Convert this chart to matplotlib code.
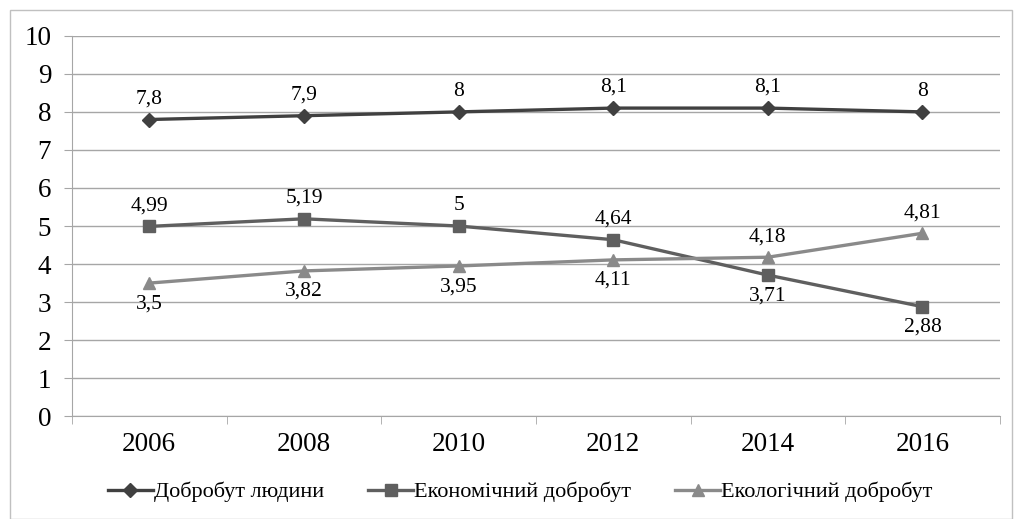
import matplotlib.pyplot as plt
from matplotlib.patches import Rectangle
import numpy as np

years = ["2006", "2008", "2010", "2012", "2014", "2016"]
human = [7.8, 7.9, 8.0, 8.1, 8.1, 8.0]
econ = [4.99, 5.19, 5.0, 4.64, 3.71, 2.88]
eco = [3.5, 3.82, 3.95, 4.11, 4.18, 4.81]
human_lbl = ["7,8", "7,9", "8", "8,1", "8,1", "8"]
econ_lbl = ["4,99", "5,19", "5", "4,64", "3,71", "2,88"]
eco_lbl = ["3,5", "3,82", "3,95", "4,11", "4,18", "4,81"]
# label above (+1) or below (-1) the point
econ_pos = [1, 1, 1, 1, -1, -1]
eco_pos = [-1, -1, -1, -1, 1, 1]

plt.rcParams['font.family'] = ['Liberation Serif', 'DejaVu Serif']

fig = plt.figure(figsize=(10.14, 5.19), dpi=100)
ax = fig.add_axes([0.071, 0.198, 0.915, 0.733])
x = np.arange(len(years))
grid_c = "#a6a6a6"

ax.plot(x, human, color="#404040", lw=2.4, marker="D", ms=7, label="Добробут людини", zorder=3)
ax.plot(x, econ, color="#5f5f5f", lw=2.4, marker="s", ms=8, label="Економічний добробут", zorder=3)
ax.plot(x, eco, color="#8a8a8a", lw=2.4, marker="^", ms=9, label="Екологічний добробут", zorder=3)

for i in x:
    ax.annotate(human_lbl[i], (i, human[i]), xytext=(0, 8), textcoords="offset points",
                ha="center", va="bottom", fontsize=15.5)
    ax.annotate(econ_lbl[i], (i, econ[i]), xytext=(0, 8 * econ_pos[i]), textcoords="offset points",
                ha="center", va="bottom" if econ_pos[i] > 0 else "top", fontsize=15.5)
    ax.annotate(eco_lbl[i], (i, eco[i]), xytext=(0, 8 * eco_pos[i]), textcoords="offset points",
                ha="center", va="bottom" if eco_pos[i] > 0 else "top", fontsize=15.5)

ax.set_xlim(-0.5, len(years) - 0.5)
ax.set_ylim(0, 10)
ax.set_yticks(range(0, 11))
ax.set_xticks(x)
ax.set_xticklabels(years)
ax.set_xticks(np.arange(-0.5, len(years)), minor=True)
ax.tick_params(axis="x", which="major", length=0, labelsize=19.5, pad=11)
ax.tick_params(axis="x", which="minor", length=6, color=grid_c)
ax.tick_params(axis="y", length=6, color=grid_c, labelsize=19.5, pad=9)
ax.yaxis.grid(True, color=grid_c, lw=1)
ax.set_axisbelow(True)
for s in ["top", "right"]:
    ax.spines[s].set_visible(False)
ax.spines["left"].set_color(grid_c)
ax.spines["bottom"].set_color(grid_c)

fig.legend(loc="center", bbox_to_anchor=(0.513, 0.052), ncol=3, frameon=False,
           fontsize=16, handlelength=2.0, handletextpad=0.05, columnspacing=2.0)

fig.patches.append(Rectangle((10 / 1014, 0), 1002 / 1014, 509 / 519, transform=fig.transFigure,
                             fill=False, edgecolor="#c0c0c0", lw=1))

fig.savefig("out.png", dpi=100)
